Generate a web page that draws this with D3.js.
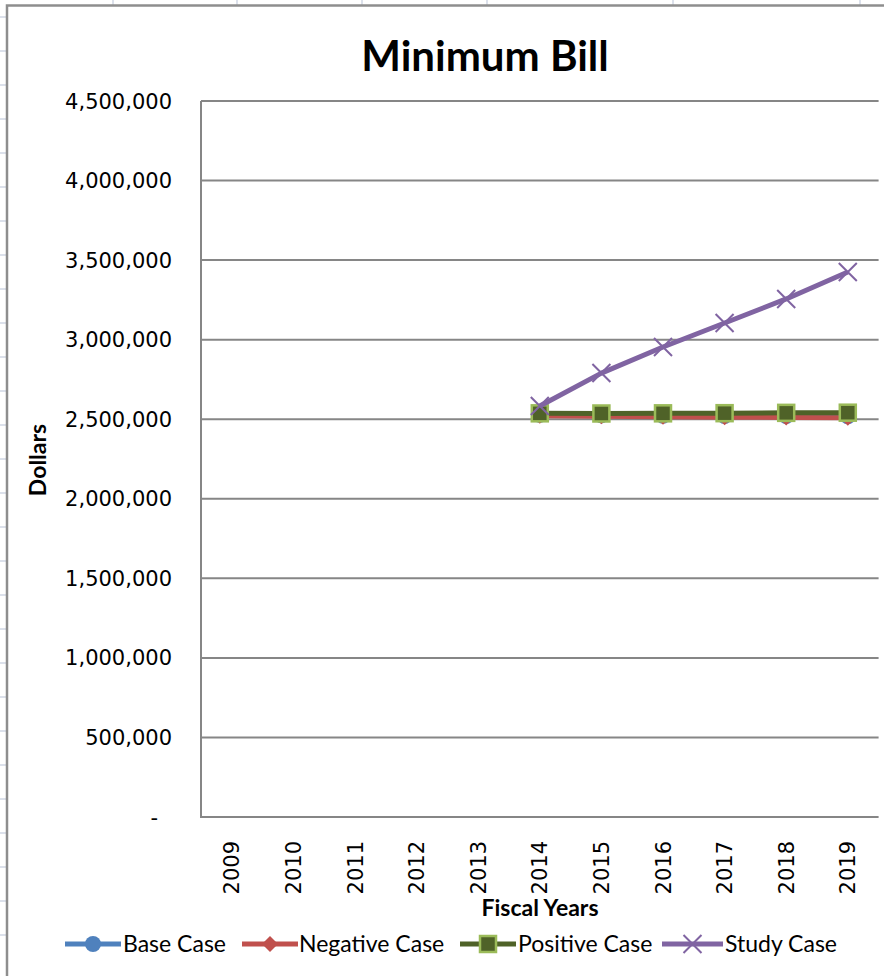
<!DOCTYPE html>
<html>
<head>
<meta charset="utf-8">
<script src="https://cdn.jsdelivr.net/npm/d3@7"></script>
<style>
body { margin: 0; background: #fff; }
svg { display: block; }
.tick-label { font-family: "DejaVu Sans", Verdana, sans-serif; font-size: 21px; fill: #000; }
.calibri { font-family: Lato, "Open Sans", sans-serif; }
</style>
</head>
<body>
<div id="chart"></div>
<script>
const years = ['2009', '2010', '2011', '2012', '2013', '2014', '2015', '2016', '2017', '2018', '2019']
const yTicks = [0, 500000, 1000000, 1500000, 2000000, 2500000, 3000000, 3500000, 4000000, 4500000]

// only 2014 onward has values
const baseCase = [null, null, null, null, null, 2527000, 2524000, 2522000, 2520000, 2519000, 2518000]
const negativeCase = [null, null, null, null, null, 2522000, 2518000, 2515000, 2513000, 2511000, 2510000]
const positiveCase = [null, null, null, null, null, 2537000, 2536000, 2537000, 2538000, 2540000, 2541000]
const studyCase = [null, null, null, null, null, 2583000, 2790000, 2954000, 3105000, 3256000, 3425000]

const series = [
	{name: 'Base Case', values: baseCase, color: '#4f81bd', marker: 'circle'},
	{name: 'Negative Case', values: negativeCase, color: '#c0504d', marker: 'diamond'},
	{name: 'Positive Case', values: positiveCase, color: '#4f6228', marker: 'square'},
	{name: 'Study Case', values: studyCase, color: '#8064a2', marker: 'x'}
]

const width = 884, height = 976
const margin = {left: 201, top: 101, right: 5, bottom: 159}

const svg = d3.select('#chart').append('svg')
.attr('width', width)
.attr('height', height)

// spreadsheet grid behind the chart
const sheet = svg.append('g')
d3.range(29, 976, 34).forEach(y => {
	sheet.append('line').attr('x1', 0).attr('x2', 6).attr('y1', y - 12).attr('y2', y - 12)
	.attr('stroke', '#d0d7e5').attr('stroke-width', 1.5)
})
;[113, 237, 362, 487, 673, 860].forEach(x => {
	sheet.append('line').attr('x1', x).attr('x2', x).attr('y1', 0).attr('y2', 5)
	.attr('stroke', '#d0d7e5').attr('stroke-width', 1.5)
})

svg.append('path')
.attr('d', 'M7,976 V5.5 H884')
.attr('fill', 'none')
.attr('stroke', '#8e8e8e')
.attr('stroke-width', 2.5)

const x = d3.scaleBand()
.domain(years)
.range([margin.left, 878.6])

const y = d3.scaleLinear()
.domain([0, 4500000])
.range([817, margin.top])

// gridlines
svg.append('g')
.selectAll('line')
.data(yTicks)
.enter()
.append('line')
.attr('x1', margin.left)
.attr('x2', 878.6)
.attr('y1', d => y(d))
.attr('y2', d => y(d))
.attr('stroke', '#868686')
.attr('stroke-width', 2)

svg.append('line')
.attr('x1', margin.left).attr('x2', margin.left)
.attr('y1', y(4500000)).attr('y2', y(0) + 1)
.attr('stroke', '#868686')
.attr('stroke-width', 2)

// y tick labels
svg.append('g')
.selectAll('text')
.data(yTicks)
.enter()
.append('text')
.attr('class', 'tick-label')
.attr('y', d => y(d))
.attr('dy', '0.36em')
.attr('text-anchor', 'end')
.attr('x', d => d === 0 ? 158 : 172)
.text(d => d === 0 ? '-' : d3.format(',')(d))

// x tick labels
svg.append('g')
.selectAll('text')
.data(years)
.enter()
.append('text')
.attr('class', 'tick-label')
.attr('transform', d => 'translate(' + (x(d) + x.bandwidth() / 2) + ',841) rotate(-90)')
.attr('dy', '0.36em')
.attr('text-anchor', 'end')
.text(d => d)

svg.append('text')
.attr('class', 'calibri')
.attr('x', 485)
.attr('y', 71)
.attr('text-anchor', 'middle')
.attr('font-size', 42)
.attr('font-weight', 'bold')
.text('Minimum Bill')

svg.append('text')
.attr('class', 'calibri')
.attr('transform', 'translate(46,460) rotate(-90)')
.attr('text-anchor', 'middle')
.attr('font-size', 23)
.attr('font-weight', 'bold')
.text('Dollars')

svg.append('text')
.attr('class', 'calibri')
.attr('x', 540)
.attr('y', 916)
.attr('text-anchor', 'middle')
.attr('font-size', 23)
.attr('font-weight', 'bold')
.text('Fiscal Years')

const drawMarker = (g, s, cx, cy) => {
	if (s.marker === 'circle') {
		g.append('circle').attr('cx', cx).attr('cy', cy).attr('r', 8).attr('fill', s.color)
	} else if (s.marker === 'diamond') {
		g.append('path')
		.attr('d', 'M' + cx + ',' + (cy - 8) + 'L' + (cx + 8) + ',' + cy + 'L' + cx + ',' + (cy + 8) + 'L' + (cx - 8) + ',' + cy + 'Z')
		.attr('fill', s.color)
	} else if (s.marker === 'square') {
		g.append('rect').attr('x', cx - 8).attr('y', cy - 8).attr('width', 16).attr('height', 16)
		.attr('fill', s.color).attr('stroke', '#9bbb59').attr('stroke-width', 2.5)
	} else {
		g.append('path')
		.attr('d', 'M' + (cx - 9) + ',' + (cy - 9) + 'L' + (cx + 9) + ',' + (cy + 9) + 'M' + (cx + 9) + ',' + (cy - 9) + 'L' + (cx - 9) + ',' + (cy + 9))
		.attr('stroke', s.color).attr('stroke-width', 2).attr('fill', 'none')
	}
}

const line = d3.line()
.defined(d => d.v !== null)
.x(d => x(d.year) + x.bandwidth() / 2)
.y(d => y(d.v))

const plot = svg.append('g')

series.forEach(s => {
	const pts = years.map((yr, i) => ({year: yr, v: s.values[i]}))
	plot.append('path')
	.datum(pts)
	.attr('d', line)
	.attr('fill', 'none')
	.attr('stroke', s.color)
	.attr('stroke-width', 5)
	.attr('stroke-linejoin', 'round')
	const mg = plot.append('g')
	pts.filter(d => d.v !== null).forEach(d => drawMarker(mg, s, x(d.year) + x.bandwidth() / 2, y(d.v)))
})

// legend
const legendItems = [
	{x0: 65, x1: 121, tx: 123},
	{x0: 242, x1: 298, tx: 299},
	{x0: 460, x1: 516, tx: 518},
	{x0: 662, x1: 723, tx: 725}
]
const legend = svg.append('g')
series.forEach((s, i) => {
	const it = legendItems[i]
	legend.append('line')
	.attr('x1', it.x0).attr('x2', it.x1)
	.attr('y1', 944).attr('y2', 944)
	.attr('stroke', s.color).attr('stroke-width', 5)
	drawMarker(legend, s, (it.x0 + it.x1) / 2, 944)
	legend.append('text')
	.attr('class', 'calibri')
	.attr('x', it.tx)
	.attr('y', 944)
	.attr('dy', '0.35em')
	.attr('font-size', 23)
	.text(s.name)
})
</script>
</body>
</html>
